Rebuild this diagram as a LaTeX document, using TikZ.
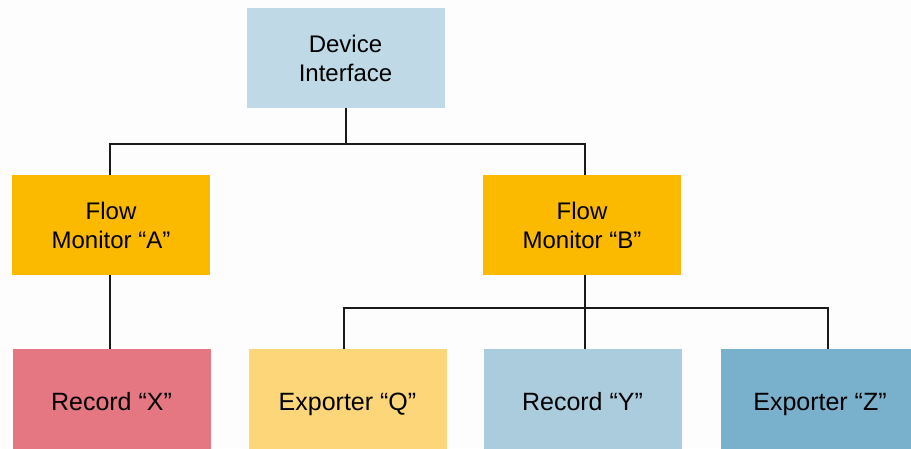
\documentclass[tikz,border=0pt]{standalone}
\usepackage{fontspec}
\setmainfont{Liberation Sans}
\definecolor{bgc}{HTML}{FDFDFD}
\definecolor{dic}{HTML}{C0D9E6}
\definecolor{fmc}{HTML}{FBBA00}
\definecolor{rxc}{HTML}{E47782}
\definecolor{eqc}{HTML}{FDD67A}
\definecolor{ryc}{HTML}{AACCDD}
\definecolor{ezc}{HTML}{79B0CC}
\definecolor{linec}{HTML}{1A1A1A}
\tikzset{
  box/.style={rectangle, inner sep=0pt, minimum width=198pt, minimum height=100pt,
    align=center, text=black, font=\fontsize{24}{29}\selectfont},
  lowbox/.style={box, font=\fontsize{25}{30}\selectfont, text height=22pt, text depth=0pt},
  conn/.style={draw=linec, line width=2pt}
}
\begin{document}
\begin{tikzpicture}[x=1pt,y=-1pt]
\fill[bgc] (0,0) rectangle (911,448);
\useasboundingbox (0,0) rectangle (911,448);
\begin{scope}
\clip (0,0) rectangle (911,448);
\node[box, fill=dic] (di) at (345.5,58) {Device\\Interface};
\node[box, fill=fmc] (fa) at (111,225) {Flow\\Monitor “A”};
\node[box, fill=fmc] (fb) at (582,225) {Flow\\Monitor “B”};
\node[lowbox, fill=rxc] (rx) at (111.5,399) {Record “X”};
\node[lowbox, fill=eqc] (eq) at (347.5,399) {Exporter “Q”};
\node[lowbox, fill=ryc] (ry) at (582.5,399) {Record “Y”};
\node[lowbox, fill=ezc] (ez) at (820,399) {Exporter “Z”};
\coordinate (j1) at (345.5,144);
\coordinate (j2) at (585,308);
\draw[conn] (di.south) -- (j1);
\draw[conn] ([xshift=-1pt]fa.north) |- (j1) -| ([xshift=3pt]fb.north);
\draw[conn] ([xshift=-1pt]fa.south) -- ([xshift=-1.5pt]rx.north);
\draw[conn] ([xshift=3pt]fb.south) -- ([xshift=2.5pt]ry.north);
\draw[conn] ([xshift=-3.5pt]eq.north) |- (j2) -| ([xshift=8pt]ez.north);
\end{scope}
\end{tikzpicture}
\end{document}
